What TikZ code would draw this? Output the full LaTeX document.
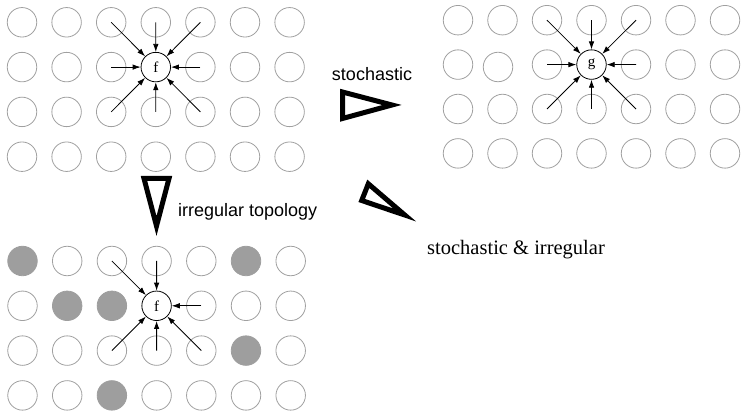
\documentclass[tikz,border=0pt]{standalone}
\usepackage{fontspec}
\setmainfont{Liberation Serif}
\newfontfamily\helv{Liberation Sans}
\usetikzlibrary{arrows.meta}
\definecolor{ring}{HTML}{A0A0A0}
\definecolor{dot}{HTML}{9E9E9E}
\begin{document}
\begin{tikzpicture}[x=1pt,y=-1pt,
  cell/.style={circle,draw=ring,line width=0.8pt,minimum size=29.5pt,inner sep=0pt},
  filledcell/.style={cell,fill=dot,draw=dot},
  hub/.style={circle,draw=black,line width=0.8pt,minimum size=29.5pt,inner sep=0pt,font=\fontsize{15}{15}\selectfont},
  arr/.style={line width=0.8pt,-{Latex[length=8pt,width=5.5pt]}},
  tri/.style={line width=5pt,line join=miter,draw=black},
  lbl/.style={font=\helv\fontsize{18}{18}\selectfont,inner sep=0pt}
]
\useasboundingbox (0,0) rectangle (741,411);

% ---- grid A (top left) ----
\foreach \r in {1,...,4}{\foreach \c in {1,...,7}{
  \pgfmathtruncatemacro\isctr{(\r==2)&&(\c==4)}
  \ifnum\isctr=0
    \node[cell] (A-\r-\c) at ({22+(\c-1)*44.6},{22.3+(\r-1)*44.8}) {};
  \fi
}}
\node[hub] (f1) at (155.8,67.1) {f};
\foreach \n in {1-3,1-4,1-5,2-3,2-5,3-3,3-4,3-5}
  \draw[arr] (A-\n.center) -- (f1);

% ---- grid B (top right, stochastic) ----
\foreach \r in {1,...,4}{\foreach \c in {1,...,7}{
  \pgfmathtruncatemacro\isctr{(\r==2)&&(\c==4)}
  \pgfmathtruncatemacro\isodd{(\r==2)&&(\c==2)}
  \ifnum\isctr=0
    \ifnum\isodd=0
      \node[cell] (B-\r-\c) at ({458+(\c-1)*44.5},{20.2+(\r-1)*44.4}) {};
    \else
      \node[cell] (B-\r-\c) at (498,67) {};
    \fi
  \fi
}}
\node[hub] (g1) at (591.5,64.6) {g};
\foreach \n in {1-3,1-4,1-5,2-3,2-5,3-3,3-4,3-5}
  \draw[arr] (B-\n.center) -- (g1);

% ---- grid C (bottom left, irregular) ----
\foreach \r in {1,...,4}{\foreach \c in {1,...,7}{
  \pgfmathtruncatemacro\isctr{(\r==2)&&(\c==4)}
  \pgfmathtruncatemacro\isfill{((\r==1)&&(\c==1))||((\r==1)&&(\c==6))||((\r==2)&&(\c==2))||((\r==2)&&(\c==3))||((\r==3)&&(\c==6))||((\r==4)&&(\c==3))}
  \ifnum\isctr=0
    \ifnum\isfill=0
      \node[cell] (C-\r-\c) at ({22.5+(\c-1)*44.7},{261+(\r-1)*44.8}) {};
    \else
      \node[filledcell] (C-\r-\c) at ({22.5+(\c-1)*44.7},{261+(\r-1)*44.8}) {};
    \fi
  \fi
}}
\node[hub] (f2) at (156.6,305.8) {f};
\foreach \n in {1-3,1-4,2-5,3-3,3-4,3-5}
  \draw[arr] (C-\n.center) -- (f2);

% ---- transformation triangles ----
\draw[tri] (342.5,92) -- (342.5,118.5) -- (392,105) -- cycle;
\draw[tri] (144,178.5) -- (169,178.5) -- (156.5,226) -- cycle;
\draw[tri] (368.3,183.8) -- (361.7,200.5) -- (404.7,215) -- cycle;

% ---- labels ----
\node[lbl,anchor=base] (t1) at (372,81) {stochastic};
\node[lbl,anchor=base west] (t2) at (178,216.5) {irregular topology};
\node[font=\fontsize{20.5}{20.5}\selectfont,anchor=base west,inner sep=0pt] (t3) at (427,255) {stochastic \& irregular};
\end{tikzpicture}
\end{document}
